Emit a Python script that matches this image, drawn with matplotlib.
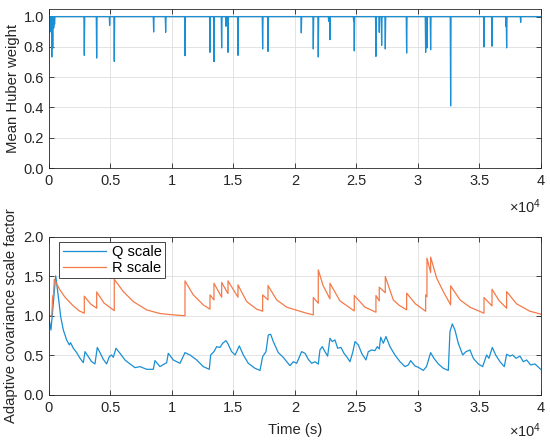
import matplotlib
matplotlib.use("Agg")
import matplotlib.pyplot as plt
from matplotlib.ticker import FuncFormatter, MultipleLocator
import numpy as np

plt.rcParams['font.family'] = ['Liberation Sans', 'DejaVu Sans']
plt.rcParams['mathtext.fontset'] = 'custom'
plt.rcParams['mathtext.rm'] = 'Liberation Sans'

# ---------------- data ----------------
# Mean Huber weight: baseline 1 with downward spikes (time s, min value)
huber_spike_t = [150, 255, 330, 410, 480, 2895, 3900, 4955, 5330, 8530, 9505,
                 11075, 13106, 13430, 14055, 14400, 14570, 15380, 17385, 17820,
                 20525, 21500, 21905, 22750, 22855, 24780, 24830, 26590, 26860,
                 27055, 27350, 29085, 30630, 30735, 31035, 32660, 35370, 36020,
                 37155, 37210, 38350]
huber_spike_v = [0.90, 0.733, 0.79, 0.925, 0.95, 0.744, 0.726, 0.942, 0.704, 0.898, 0.896,
                 0.742, 0.764, 0.702, 0.793, 0.936, 0.764, 0.744, 0.786, 0.770,
                 0.892, 0.786, 0.733, 0.969, 0.848, 0.969, 0.773, 0.737, 0.896,
                 0.81, 0.786, 0.759, 0.764, 0.793, 0.781, 0.41, 0.799, 0.804,
                 0.936, 0.793, 0.962]

# Adaptive covariance scale factors
q_t = [0, 187, 375, 570, 785, 975, 1190, 1460, 1675, 1780, 2000, 2275, 2545, 2815,
       2950, 3220, 3490, 3760, 3950, 4170, 4440, 4710, 4925, 5115, 5250, 5470,
       5795, 6200, 6605, 7010, 7420, 7960, 8500, 8635, 9045, 9585, 9720, 10125,
       10670, 11075, 11480, 12025, 12560, 13050, 13160, 13430, 13650, 13920,
       14140, 14405, 14570, 14865, 15150, 15490, 15815, 16220, 16760, 17170,
       17385, 17655, 17845, 18035, 18250, 18655, 19060, 19605, 19875, 20150,
       20555, 20830, 21095, 21370, 21640, 21905, 22040, 22230, 22450, 22665,
       22855, 23040, 23260, 23480, 23750, 23995, 24210, 24480, 24700, 24890,
       25160, 25430, 25780, 25970, 26240, 26510, 26700, 26860, 26975, 27190,
       27405, 27730, 28135, 28545, 28950, 29220, 29410, 29760, 30030, 30435,
       30700, 31035, 31300, 31660, 32065, 32470, 32605, 32795, 33010, 33280,
       33640, 33910, 34230, 34500, 34905, 35260, 35585, 35775, 36045, 36320,
       36670, 37020, 37210, 37480, 37700, 37970, 38295, 38565, 38835, 39160,
       39510, 39975]
q_v = [0.99, 0.82, 1.16, 1.503, 1.24, 0.99, 0.82, 0.695, 0.632, 0.66, 0.59, 0.535,
       0.463, 0.408, 0.547, 0.484, 0.42, 0.392, 0.60, 0.535, 0.45, 0.392, 0.484,
       0.505, 0.475, 0.59, 0.526, 0.442, 0.392, 0.345, 0.358, 0.324, 0.324,
       0.434, 0.358, 0.408, 0.526, 0.442, 0.40, 0.535, 0.505, 0.442, 0.358,
       0.324, 0.505, 0.547, 0.61, 0.60, 0.653, 0.686, 0.645, 0.547, 0.505,
       0.62, 0.505, 0.40, 0.337, 0.31, 0.484, 0.547, 0.758, 0.766, 0.674,
       0.535, 0.475, 0.37, 0.42, 0.40, 0.547, 0.526, 0.45, 0.40, 0.42, 0.39,
       0.568, 0.61, 0.547, 0.49, 0.716, 0.674, 0.695, 0.59, 0.60, 0.526,
       0.484, 0.42, 0.535, 0.674, 0.632, 0.526, 0.442, 0.547, 0.568, 0.56,
       0.61, 0.58, 0.729, 0.653, 0.737, 0.61, 0.505, 0.42, 0.358, 0.379,
       0.434, 0.366, 0.35, 0.31, 0.358, 0.535, 0.463, 0.392, 0.337, 0.31,
       0.80, 0.897, 0.82, 0.653, 0.505, 0.547, 0.568, 0.463, 0.392, 0.358,
       0.505, 0.463, 0.60, 0.505, 0.42, 0.358, 0.514, 0.49, 0.505, 0.463,
       0.49, 0.42, 0.442, 0.379, 0.392, 0.324]

r_t = [0, 250, 325, 380, 457, 900, 1325, 2000, 2500, 2895, 2895, 3400, 3900, 3900,
       4500, 5330, 5330, 6065, 6875, 7960, 9045, 10125, 11075, 11075, 11750,
       12560, 13106, 13106, 13430, 13430, 14055, 14055, 14570, 14570, 15380,
       15380, 16085, 16900, 17385, 17385, 17820, 17820, 18525, 19340, 20420,
       21000, 21500, 21500, 21905, 21905, 22300, 22855, 22855, 23670, 24830,
       24830, 25700, 26590, 26590, 26860, 26860, 27350, 27350, 28000, 28500,
       29085, 29085, 29800, 30630, 30630, 30735, 30735, 31035, 31035, 31525,
       32065, 32660, 32660, 33420, 34230, 35370, 35370, 36020, 36020, 36600,
       37210, 37210, 38020, 39100, 40000]
r_v = [1.0, 1.0, 1.25, 1.24, 1.46, 1.33, 1.234, 1.124, 1.06, 1.032, 1.247, 1.15,
       1.095, 1.30, 1.16, 1.065, 1.46, 1.305, 1.179, 1.074, 1.028, 1.011, 1.0,
       1.44, 1.263, 1.137, 1.083, 1.263, 1.2, 1.41, 1.234, 1.42, 1.28, 1.44,
       1.234, 1.39, 1.18, 1.083, 1.057, 1.263, 1.2, 1.381, 1.2, 1.108, 1.057,
       1.03, 1.011, 1.23, 1.158, 1.579, 1.38, 1.213, 1.41, 1.187, 1.061, 1.255,
       1.108, 1.045, 1.255, 1.187, 1.36, 1.29, 1.495, 1.2, 1.13, 1.074, 1.285,
       1.15, 1.057, 1.263, 1.24, 1.727, 1.545, 1.74, 1.474, 1.305, 1.137,
       1.377, 1.2, 1.108, 1.032, 1.23, 1.124, 1.335, 1.19, 1.095, 1.305,
       1.15, 1.057, 1.02]

# build Huber series from spike list
ht = [0.0]
hv = [1.0]
for t, v in zip(huber_spike_t, huber_spike_v):
    ht += [t - 35, t, t + 35]
    hv += [1.0, v, 1.0]
ht.append(40000.0)
hv.append(1.0)

# ---------------- style ----------------
blue = '#1a8fd4'
orange = '#F47a4a'
axc = '#262626'

fig = plt.figure(figsize=(5.5, 4.44), dpi=100)
ax1 = fig.add_axes([0.0885, 0.6216, 0.8951, 0.3581])
ax2 = fig.add_axes([0.0885, 0.1104, 0.8951, 0.3569])

fmt = FuncFormatter(lambda x, p: ('%g' % (x / 1e4)))

def style(ax):
    ax.set_xlim(0, 40000)
    ax.xaxis.set_major_locator(MultipleLocator(5000))
    ax.xaxis.set_major_formatter(fmt)
    ax.grid(True, color='#dedede', linewidth=0.6)
    ax.set_axisbelow(True)
    ax.tick_params(direction='in', top=True, right=True, length=3.5, width=0.6,
                   colors=axc, labelsize=10.5, labelcolor=axc)
    ax.tick_params(axis='x', pad=4.5)
    ax.tick_params(axis='y', pad=3.5)
    for s in ax.spines.values():
        s.set_color(axc)
        s.set_linewidth(0.6)

ax1.plot(ht, hv, color=blue, linewidth=0.9)
style(ax1)
ax1.set_ylim(0, 1.05)
ax1.set_yticks([0, 0.2, 0.4, 0.6, 0.8, 1])
ax1.set_ylabel('Mean Huber weight', fontsize=10.7, color=axc)
ax1.yaxis.set_label_coords(-0.058, 0.5)
ax1.text(1.0, -0.28, r'$\times\mathregular{10^{4}}$', transform=ax1.transAxes,
         ha='right', va='baseline', fontsize=10.5, color=axc)

ax2.plot(q_t, q_v, color=blue, linewidth=0.9, label='Q scale')
ax2.plot(r_t, r_v, color=orange, linewidth=0.9, label='R scale')
style(ax2)
ax2.set_ylim(0, 2)
ax2.set_yticks([0, 0.5, 1, 1.5, 2])
ax2.set_ylabel('Adaptive covariance scale factor', fontsize=10.7, color=axc)
ax2.yaxis.set_label_coords(-0.062, 0.5)
ax2.set_xlabel('Time (s)', fontsize=10.7, color=axc, labelpad=5.5)
ax2.text(1.0, -0.266, r'$\times\mathregular{10^{4}}$', transform=ax2.transAxes,
         ha='right', va='baseline', fontsize=10.5, color=axc)
leg = ax2.legend(loc='upper left', bbox_to_anchor=(0.021, 0.967), borderaxespad=0,
                 fontsize=10.5, handlelength=3.0, fancybox=False, framealpha=1,
                 edgecolor=axc, borderpad=0.25, labelspacing=0.1, handletextpad=0.35)
leg.get_frame().set_linewidth(0.6)

fig.savefig('out.png', dpi=100)
